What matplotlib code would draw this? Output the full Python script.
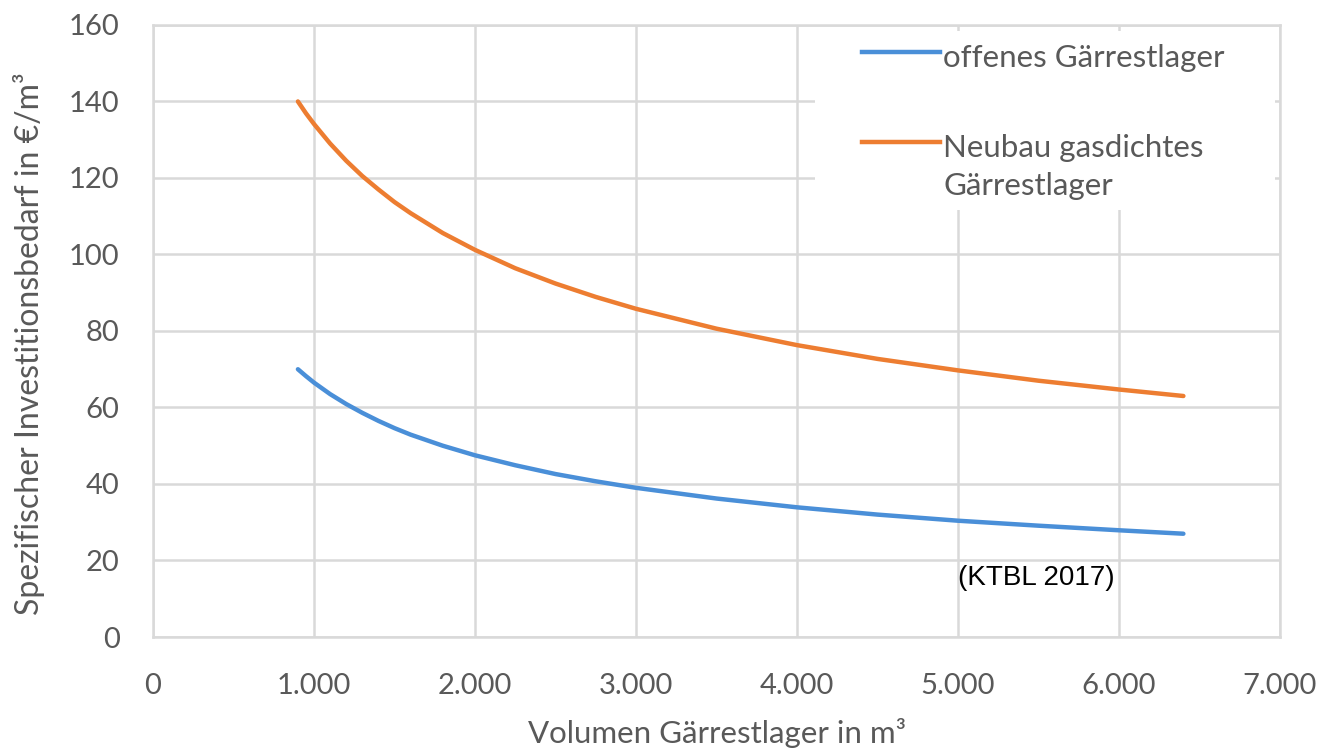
import matplotlib.pyplot as plt
from matplotlib.patches import Rectangle
from matplotlib.lines import Line2D

volumen = [900, 950, 1000, 1100, 1200, 1300, 1400, 1500, 1600, 1800, 2000, 2250, 2500, 2750,
           3000, 3500, 4000, 4500, 5000, 5500, 6000, 6400]
offen = [70, 68.2, 66.5, 63.5, 60.9, 58.6, 56.5, 54.6, 52.9, 50.0, 47.5, 44.9, 42.6, 40.7,
         39.0, 36.2, 33.9, 32.0, 30.4, 29.1, 27.9, 27]
gasdicht = [140, 136.9, 134.1, 129.0, 124.5, 120.5, 117.0, 113.7, 110.8, 105.6, 101.2, 96.4, 92.4, 88.9,
            85.8, 80.6, 76.3, 72.7, 69.7, 67.0, 64.7, 63]

serien = ["offenes Gärrestlager", "Neubau gasdichtes\nGärrestlager"]
farben = ["#4a8fd8", "#ed7d31"]

x_ticks = [0, 1000, 2000, 3000, 4000, 5000, 6000, 7000]
x_labels = ["0", "1.000", "2.000", "3.000", "4.000", "5.000", "6.000", "7.000"]
y_ticks = [0, 20, 40, 60, 80, 100, 120, 140, 160]

plt.rcParams['font.family'] = ['Lato', 'DejaVu Sans']
grau = "#d9d9d9"
text_grau = "#595959"

fig = plt.figure(figsize=(13.26, 7.56), dpi=100)
ax = fig.add_axes([0.1154, 0.1574, 0.8499, 0.8096])

ax.plot(volumen, offen, color=farben[0], linewidth=3.2, solid_capstyle='round', zorder=3)
ax.plot(volumen, gasdicht, color=farben[1], linewidth=3.2, solid_capstyle='round', zorder=3)

ax.set_xlim(0, 7000)
ax.set_ylim(0, 160)
ax.set_xticks(x_ticks)
ax.set_xticklabels(x_labels)
ax.set_yticks(y_ticks)
ax.grid(True, color=grau, linewidth=1.8, zorder=0)
ax.set_axisbelow(True)
for s in ax.spines.values():
    s.set_color(grau)
    s.set_linewidth(1.8)
ax.tick_params(length=0, labelsize=21, colors=text_grau)
ax.tick_params(axis='y', pad=24)
ax.tick_params(axis='x', pad=26)

ax.set_xlabel("Volumen Gärrestlager in m³", fontsize=22.5, color=text_grau)
ax.set_ylabel("Spezifischer Investitionsbedarf in €/m³", fontsize=23, color=text_grau)
ax.xaxis.set_label_coords(0.5, -0.133)
ax.yaxis.set_label_coords(-0.096, 0.48)

# Legende (weißer Kasten über dem Gitter)
ax.add_patch(Rectangle((0.587, 0.6975), 0.4086, 0.2925, transform=ax.transAxes,
                       facecolor="white", edgecolor="none", zorder=1))
leg_y = [0.955, 0.808]
for name, farbe, yy in zip(serien, farben, leg_y):
    ax.add_line(Line2D([0.629, 0.698], [yy, yy], transform=ax.transAxes,
                       color=farbe, linewidth=3.2, zorder=4))
    ax.text(0.701, yy + 0.014, name, transform=ax.transAxes, fontsize=22.5,
            color=text_grau, va='top', ha='left', linespacing=1.45, zorder=4)

ax.text(5000, 15.5, "(KTBL 2017)", fontsize=20, color="black",
        family="Liberation Sans", ha='left', va='center', zorder=4)

plt.savefig("out.png", dpi=100)
plt.close()
